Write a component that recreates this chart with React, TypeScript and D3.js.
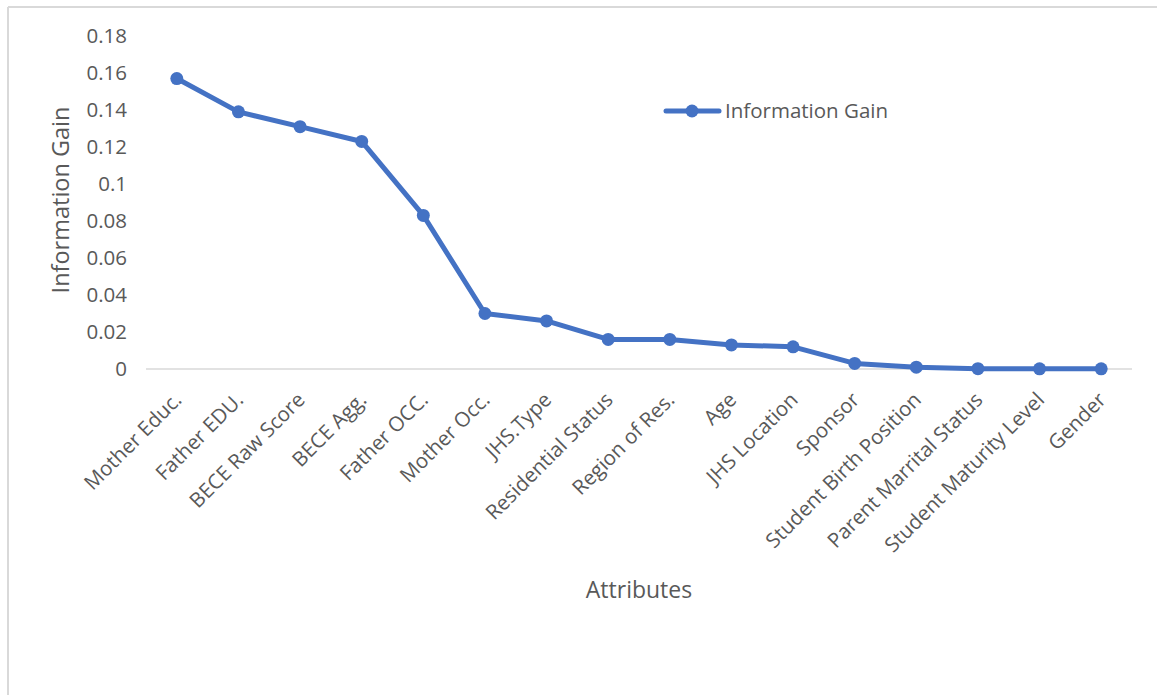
import React from "react";
import * as d3 from "d3";

const categories = [
  "Mother Educ.", "Father EDU.", "BECE Raw Score", "BECE Agg.", "Father OCC.",
  "Mother Occ.", "JHS.Type", "Residential Status", "Region of Res.", "Age",
  "JHS Location", "Sponsor", "Student Birth Position", "Parent Marrital Status",
  "Student Maturity Level", "Gender",
];
const infoGain = [
  0.157, 0.139, 0.131, 0.123, 0.083, 0.030, 0.026, 0.016, 0.016, 0.013,
  0.012, 0.003, 0.001, 0.0002, 0.0001, 0.0001,
];
const yTicks = [0, 0.02, 0.04, 0.06, 0.08, 0.1, 0.12, 0.14, 0.16, 0.18];
const yTickLabels = ["0", "0.02", "0.04", "0.06", "0.08", "0.1", "0.12", "0.14", "0.16", "0.18"];
const seriesName = "Information Gain";

const W = 1157, H = 695;
const left = 146, right = 1132, top = 36, bottom = 369;
const FONT = "'Open Sans', 'Liberation Sans', sans-serif";
const TXT = "#595959";
const BLUE = "#4472C4";

export default function App() {
  const x = d3.scaleBand<string>().domain(categories).range([left, right]);
  const y = d3.scaleLinear().domain([0, 0.18]).range([bottom, top]);
  const cx = (c: string) => (x(c) as number) + x.bandwidth() / 2;
  const line = d3.line<number>().x((_, i) => cx(categories[i])).y((d) => y(d));

  return (
    <svg width={W} height={H} style={{ position: "absolute", left: 0, top: 0, background: "#fff" }}>
      <line x1={8} y1={7} x2={W} y2={7} stroke="#d9d9d9" strokeWidth={2} />
      <line x1={8} y1={7} x2={8} y2={H} stroke="#d9d9d9" strokeWidth={2} />
      <line x1={left} x2={right} y1={y(0)} y2={y(0)} stroke="#d9d9d9" strokeWidth={1.5} />
      {yTicks.map((t, i) => (
        <text key={t} x={127} y={y(t)} dy="0.36em" textAnchor="end" fontFamily={FONT} fontSize={20.5} fill={TXT}>
          {yTickLabels[i]}
        </text>
      ))}
      {categories.map((c) => (
        <text key={c} transform={`translate(${cx(c) + 1},${396}) rotate(-45)`} textAnchor="end"
          dy="0.35em" fontFamily={FONT} fontSize={20.5} fill={TXT}>
          {c}
        </text>
      ))}
      <path d={line(infoGain) || ""} fill="none" stroke={BLUE} strokeWidth={5} strokeLinejoin="round" strokeLinecap="round" />
      {infoGain.map((v, i) => (
        <circle key={i} cx={cx(categories[i])} cy={y(v)} r={6.5} fill={BLUE} />
      ))}
      <text transform={`translate(61,200) rotate(-90)`} textAnchor="middle" dy="0.35em"
        fontFamily={FONT} fontSize={23.5} fill={TXT}>
        Information Gain
      </text>
      <text x={639} y={590} textAnchor="middle" dy="0.35em" fontFamily={FONT} fontSize={23} fill={TXT}>
        Attributes
      </text>
      <line x1={666} x2={719} y1={111} y2={111} stroke={BLUE} strokeWidth={5} strokeLinecap="round" />
      <circle cx={692} cy={111} r={6.5} fill={BLUE} />
      <text x={725} y={111} dy="0.35em" fontFamily={FONT} fontSize={20.5} fill={TXT}>
        {seriesName}
      </text>
    </svg>
  );
}
